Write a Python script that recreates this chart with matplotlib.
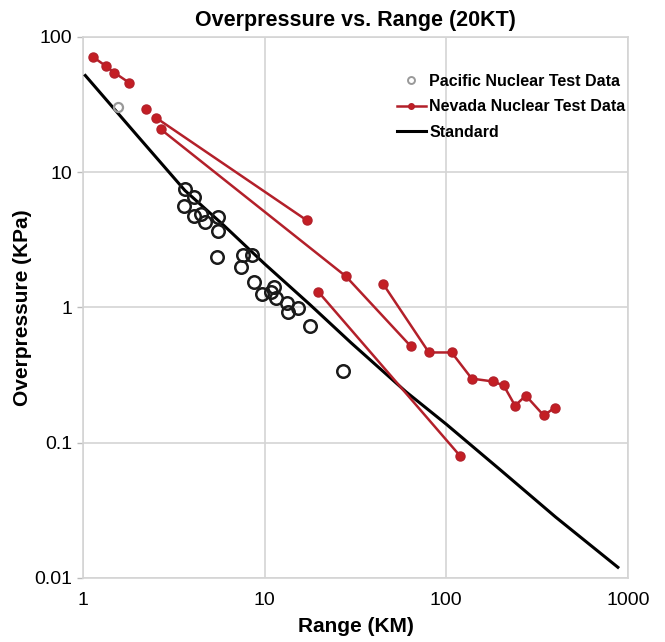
import numpy as np
import matplotlib.pyplot as plt
from matplotlib.ticker import FuncFormatter, NullLocator
from matplotlib.lines import Line2D

plt.rcParams['font.family'] = ['Liberation Sans', 'DejaVu Sans']

# Pacific test data (open circles)
pac_grey_x = [1.56]
pac_grey_y = [30.6]
pac_x = [3.64, 4.08, 3.59, 4.08, 4.44, 4.69, 5.55, 5.51, 5.48, 7.62, 8.48, 7.40,
         8.77, 9.66, 11.29, 10.83, 11.54, 13.32, 15.31, 13.49, 17.76, 26.97]
pac_y = [7.58, 6.54, 5.61, 4.73, 4.93, 4.27, 4.65, 3.66, 2.37, 2.44, 2.44, 1.99,
         1.54, 1.26, 1.41, 1.31, 1.18, 1.08, 0.995, 0.923, 0.727, 0.342]

# Nevada test data, one list per connected run
nev_x = [
    [1.14, 1.34, 1.49, 1.80],
    [2.21],
    [2.52, 17.1],
    [2.69, 28.0, 63.9],
    [19.7, 119],
    [44.8, 80.2, 107, 138, 180, 207, 239, 274, 344, 396],
]
nev_y = [
    [70.9, 60.8, 54.4, 45.8],
    [29.1],
    [25.3, 4.40],
    [20.7, 1.70, 0.515],
    [1.31, 0.080],
    [1.50, 0.465, 0.465, 0.298, 0.284, 0.265, 0.188, 0.223, 0.159, 0.182],
]

# Standard curve
std_x = [1.03, 2, 3.64, 6.0, 10, 17.76, 30, 60, 100, 200, 400, 880]
std_y = [51.9, 18.5, 7.33, 4.01, 2.10, 1.05, 0.546, 0.238, 0.137, 0.0624, 0.0282, 0.012]

red = '#b3202a'
dot = '#c41e24'

fig = plt.figure(figsize=(6.65, 6.42), dpi=100)
ax = fig.add_axes([0.1248, 0.0997, 0.8195, 0.8427])

ax.plot(std_x, std_y, color='black', lw=2.2, zorder=3)
for xs, ys in zip(nev_x, nev_y):
    ax.plot(xs, ys, color=red, lw=1.8, marker='o', ms=6.5, mfc=dot, mec=red, zorder=4)
ax.plot(pac_x, pac_y, ls='none', marker='o', ms=9, mfc='none', mec='#1a1a1a', mew=1.8, zorder=5)
ax.plot(pac_grey_x, pac_grey_y, ls='none', marker='o', ms=6.5, mfc='none', mec='#999999', mew=1.6, zorder=5)

ax.set_xscale('log')
ax.set_yscale('log')
ax.set_xlim(1, 1000)
ax.set_ylim(0.01, 100)
ax.xaxis.set_minor_locator(NullLocator())
ax.yaxis.set_minor_locator(NullLocator())
fmt = FuncFormatter(lambda v, p: '{:g}'.format(v))
ax.xaxis.set_major_formatter(fmt)
ax.yaxis.set_major_formatter(fmt)
ax.tick_params(labelsize=14, color='#bbbbbb', length=4, width=1)
ax.tick_params(axis='x', length=0, pad=10)
ax.grid(True, color='#d4d4d4', lw=1.2)
for s in ax.spines.values():
    s.set_color('#d4d4d4')
    s.set_linewidth(1.2)

ax.set_title('Overpressure vs. Range (20KT)', fontsize=15.5, fontweight='bold', pad=8)
ax.set_xlabel('Range (KM)', fontsize=15, fontweight='bold', labelpad=6)
ax.set_ylabel('Overpressure (KPa)', fontsize=15, fontweight='bold', labelpad=2)

handles = [
    Line2D([], [], ls='none', marker='o', ms=5, mfc='none', mec='#999999', mew=1.4),
    Line2D([], [], color=red, lw=1.8, marker='o', ms=4, mfc=dot, mec=red),
    Line2D([], [], color='black', lw=2.2),
]
labels = ['Pacific Nuclear Test Data', 'Nevada Nuclear Test Data', 'Standard']
leg = ax.legend(handles, labels, loc='upper left', bbox_to_anchor=(0.5756, 0.932),
                frameon=False, borderpad=0, borderaxespad=0, handlelength=1.85,
                handletextpad=0.2, labelspacing=0.66,
                prop={'weight': 'bold', 'size': 11.5})

fig.savefig('out.png', dpi=100)
